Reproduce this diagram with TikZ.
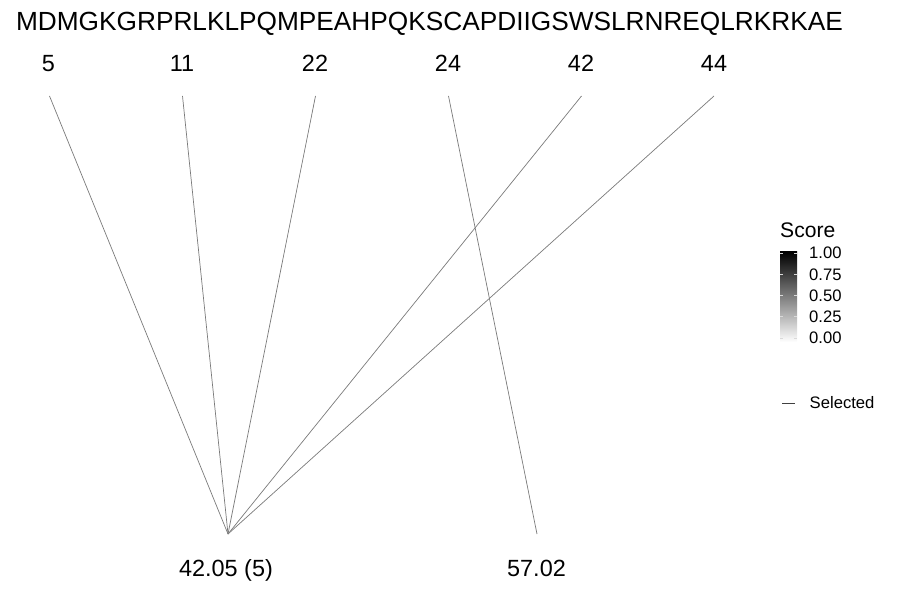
\documentclass[tikz,border=0pt]{standalone}
\usepackage{fontspec}
\setmainfont{Liberation Sans}
\usepackage{xcolor}
\definecolor{link-grey}{HTML}{7A7A7A}

\begin{document}
\begin{tikzpicture}[x=0.03cm, y=-0.03cm,
        every node/.style={inner sep=0pt},
        seqtext/.style={font=\fontsize{22.4}{26}\selectfont, anchor=base},
        postext/.style={font=\fontsize{20}{24}\selectfont, anchor=base},
        legtitle/.style={font=\fontsize{18}{21}\selectfont, anchor=base west},
        legtick/.style={font=\fontsize{14.2}{17}\selectfont, anchor=west},
        link/.style={draw=link-grey, line width=0.6pt}]
      \useasboundingbox (0,0) rectangle (900,600);
      % sequence and positions
      \node[seqtext] (SEQ) at (429.5,31) {MDMGKGRPRLKLPQMPEAHPQKSCAPDIIGSWSLRNREQLRKRKAE};
      \node[postext] (P5)  at (48.5,72)  {5};
      \node[postext] (P11) at (182,72)   {11};
      \node[postext] (P22) at (315,72)   {22};
      \node[postext] (P24) at (448,72)   {24};
      \node[postext] (P42) at (581,72)   {42};
      \node[postext] (P44) at (714,72)   {44};
      \coordinate (T5)  at (49.5,96);
      \coordinate (T11) at (182.5,96);
      \coordinate (T22) at (315.5,96);
      \coordinate (T24) at (448.5,96);
      \coordinate (T42) at (581.5,96);
      \coordinate (T44) at (714,96);
      % mass values
      \coordinate (B1) at (228,534);
      \coordinate (B2) at (537,534);
      \node[postext] (M1) at (226,576) {42.05 (5)};
      \node[postext] (M2) at (536.5,576) {57.02};
      \draw[link] (T5) -- (B1);
      \draw[link] (T11) -- (B1);
      \draw[link] (T22) -- (B1);
      \draw[link] (T42) -- (B1);
      \draw[link] (T44) -- (B1);
      \draw[link] (T24) -- (B2);
      % legend
      \node[legtitle] (SCORE) at (780,238) {Score};
      \shade[top color=black, bottom color=white] (780,252) rectangle (797,342);
      \foreach \v/\y in {1.00/253, 0.75/274.5, 0.50/295.5, 0.25/316.5, 0.00/338} {
        \draw[white!85!black, line width=0.4pt] (780,\y) -- (783,\y);
        \draw[white!85!black, line width=0.4pt] (794,\y) -- (797,\y);
        \node[legtick] at (809,\y) {\v};
      }
      \draw[draw=black!75, line width=0.5pt] (782,403) -- (795,403);
      \node[legtick] (SEL) at (809.5,402.5) {Selected};
    \end{tikzpicture}
\end{document}
